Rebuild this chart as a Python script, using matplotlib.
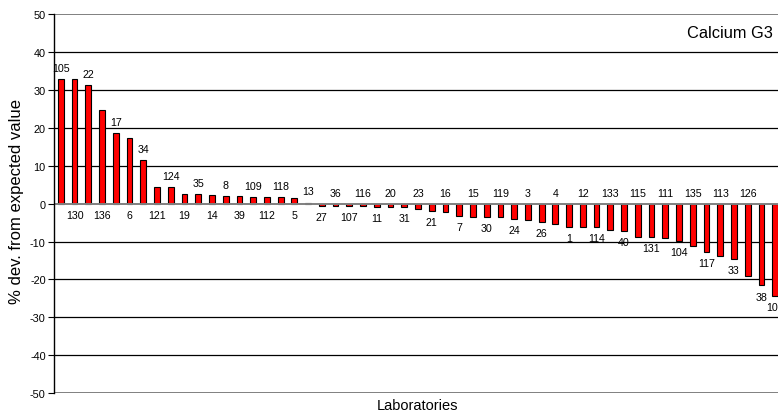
import matplotlib.pyplot as plt
import numpy as np

plt.rcParams['font.family'] = ['Liberation Sans', 'DejaVu Sans']
plt.rcParams['axes.unicode_minus'] = False

# laboratory codes, in plotted order
labs = ["105", "130", "22", "136", "17", "6", "34", "121", "124", "19",
        "35", "14", "8", "39", "109", "112", "118", "5", "13", "27",
        "36", "107", "116", "11", "20", "31", "23", "21", "16", "7",
        "15", "30", "119", "24", "3", "26", "4", "1", "12", "114",
        "133", "40", "115", "131", "111", "104", "135", "117", "113", "33",
        "126", "38", "103"]

# % deviation from expected value
dev = [33.0, 33.0, 31.2, 24.8, 18.7, 17.3, 11.5, 4.4, 4.4, 2.6,
       2.6, 2.3, 2.0, 2.0, 1.8, 1.8, 1.8, 1.5, 0.3, -0.6,
       -0.6, -0.6, -0.6, -0.9, -0.9, -0.9, -1.4, -1.9, -2.3, -3.2,
       -3.6, -3.6, -3.6, -4.0, -4.3, -4.9, -5.4, -6.2, -6.2, -6.2,
       -6.9, -7.2, -8.7, -8.7, -9.0, -9.8, -11.3, -12.8, -13.9, -14.7,
       -19.2, -21.6, -24.3]

# label placement: above (True) or below (False)
above = [i % 2 == 0 for i in range(len(labs))]
above[-1] = False

yticks = np.arange(-50, 51, 10)

fig = plt.figure(figsize=(7.78, 4.14), dpi=100)
ax = fig.add_axes([54 / 778, 1 - 394 / 414, 728 / 778, 378.7 / 414])

x = np.arange(1, len(dev) + 1)
ax.bar(x, dev, 0.42, color='#ff0000', edgecolor='black', linewidth=0.8, zorder=3)

# gridlines: inner dark, outer and zero grey
for t in yticks:
    c = '#808080' if t in (-50, 0, 50) else 'black'
    lw = 1.4 if t in (-50, 0, 50) else 0.9
    ax.axhline(t, color=c, linewidth=lw, zorder=2 if t != 0 else 4)

for xi, v, lab, up in zip(x, dev, labs, above):
    if up:
        ax.annotate(lab, (xi, max(v, 0)), xytext=(0, 8), textcoords='offset points',
                    ha='center', va='center', fontsize=7.7)
    else:
        ax.annotate(lab, (xi, min(v, 0)), xytext=(0, -8), textcoords='offset points',
                    ha='center', va='center', fontsize=7.7)

ax.set_xlim(0.5, len(dev) + 0.5)
ax.set_ylim(-50, 50)
ax.set_yticks(yticks)
ax.tick_params(axis='y', direction='out', length=4, width=0.8, labelsize=7.8, pad=2)
ax.set_xticks([])
for s in ['top', 'right', 'bottom']:
    ax.spines[s].set_visible(False)
ax.spines['left'].set_linewidth(1.0)
ax.spines['left'].set_zorder(5)

fig.text(773 / 778, 1 - 33 / 414, "Calcium G3", ha='right', va='center', fontsize=11.8)
fig.text(17 / 778, 1 - 202 / 414, "% dev. from expected value", rotation=90,
         ha='center', va='center', fontsize=12)
fig.text(418 / 778, 1 - 406 / 414, "Laboratories", ha='center', va='center', fontsize=10.5)

fig.savefig("out.png", dpi=100)
